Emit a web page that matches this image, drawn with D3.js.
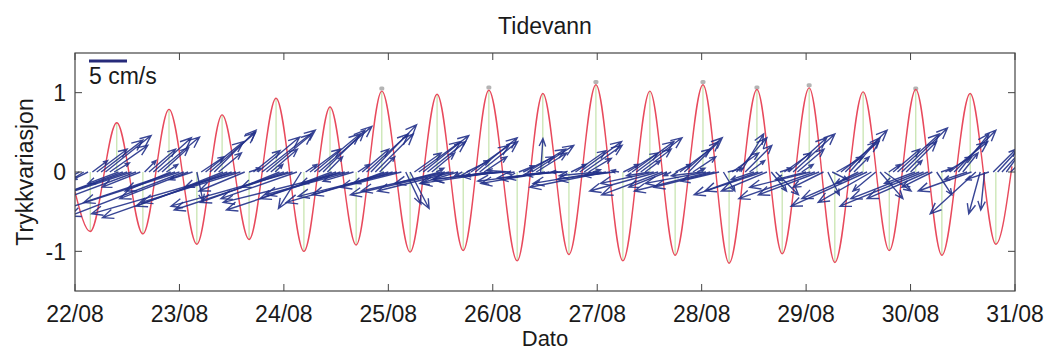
<!DOCTYPE html>
<html><head><meta charset="utf-8">
<script src="https://cdn.jsdelivr.net/npm/d3@7"></script>
<style>
body{margin:0;background:#fff}
svg{display:block}
text{font-family:"Liberation Sans",Arial,sans-serif;fill:#1a1a1a}
</style>
</head><body>
<svg id="chart" width="1046" height="353"></svg>
<script>
// ---------------- data ----------------
const chartTitle = "Tidevann";
const xLabel = "Dato";
const yLabel = "Trykkvariasjon";
const startDate = new Date(2014, 7, 22);
const endDate = new Date(2014, 7, 31);
const yTicks = [-1, 0, 1];

// tidal pressure variation: hours after 22/08 00:00 and level at each turning point
const tideHours = [0, 3.5, 9.6, 15.6, 21.6, 28.0, 33.8, 40.0, 46.2, 52.6, 58.6, 64.6, 70.5, 77.0, 83.2, 89.2, 95.1,
  101.6, 107.5, 113.5, 119.7, 125.9, 132.1, 137.9, 144.3, 150.3, 156.7, 162.5, 168.7, 174.6, 181.1, 187.1,
  193.2, 199.2, 205.7, 211.6, 215.3];
const tideLevels = [-0.25, -0.75, 0.62, -0.78, 0.79, -0.91, 0.72, -0.85, 0.93, -1.00, 0.82, -0.92, 1.02, -1.01, 0.98, -0.99, 1.03,
  -1.12, 0.99, -1.04, 1.10, -1.12, 1.02, -1.05, 1.10, -1.15, 1.04, -1.03, 1.06, -1.14, 1.01, -0.99,
  1.04, -1.05, 0.99, -0.91, 0.07];

// grey reference marks visible above some high waters
const capHours = [70.5, 95.1, 119.7, 144.3, 156.7, 168.7, 193.2];
const capLevels = [1.06, 1.07, 1.14, 1.14, 1.07, 1.10, 1.06];

// current vectors (cm/s), hourly from 22/08 00:00
const currentStartHour = 0;
const currentStepHours = 1;
const currentU = [
  -6,-10,-7,-2,2,4,5.5,6,5,2,-4,-11,-16,-18,-12,-5,1.5,3.5,5,5.5,3.5,1.5,-6,-12,
  -17,-15,-9,-3,0.8,3,5,6,5.5,3,-5,-12,-17,-19,-13,-6,1.5,3.5,5.5,7,6,3.5,1,-5,
  -11,-15,-16,-10,-3,1.5,4,6,7,5.5,2,-4,-10,-15,-16,-11,-4,1.5,3.5,5.5,6,5,2,-4,
  -10,-14,-13,-8,2,2.5,3.5,5.5,6,5,3,1,-6,-11,-13,-10,-5,-1,3,5,5.5,5,3,-3,
  -8,-10,-9,-6,-3,-1,2,4,5,5.5,4,0.3,-5,-9,-10,-8,-5,-2,2,4,5.5,5,3,1,
  -5,-9,-10,-7,-4,-1,2,4,5.5,6,4,2,-3,-7,-9,-8,-5,-1,2,4,5,4,3,1,
  -4,-8,-10,-8,-5,1.5,2,3.5,4,3,3.5,2,-3,-7,-9,-6,2,3,1.5,3.5,5,5.5,3.5,1.5,
  -4,-8,-10,-8,-4,1.5,2,3.5,5,5.5,4,2,-3,-8,-10,-7,-3,3,3.5,1.5,3.5,5.5,6,4,
  1.5,-4,-9,-11,-8,-4,2,1.5,3.5,5,5.5,4,2,-3,-7,-6,-1.5,-0.5,-3,3,5,5.5,4,2
];
const currentV = [
  -3.5,-5,-4.5,-1,1.5,3,4.2,4.8,3.5,1.2,-1.5,-4,-5.5,-6,-4.5,-2,1.5,3,4.5,4.6,3.2,1,-2.5,-4,
  -5.5,-5.8,-3.5,-1,-3.8,2,4,5.2,5.5,2.5,-2,-4.5,-6,-5.5,-4,-2.5,0.5,2.8,4.6,5.5,5,3,1,-2,
  -4,-5,-4.5,-3.5,-4.8,1,3,5,6,5.5,2,-1.5,-3.5,-5,-4,-3,-1.2,1,3,5,6.2,5,2,-1.5,
  -3,-4,-3.2,-2,-4.2,-4.8,2.5,4,4.8,4,2.5,0.5,-1.5,-2.5,-3,-2.5,-1.5,-0.5,1.5,3.5,4.5,4,2,-0.5,
  -1,-1.5,-1,-0.5,0.2,-0.2,0.8,2,3,3.5,2.5,4.4,-0.8,-1.5,-1.2,-0.8,-0.3,0,1,2.8,4,3.5,1.8,0.3,
  -0.5,-1.5,-2,-1,-0.5,0.2,1,2.5,4,4.5,3,1.5,-0.5,-1.5,-2.5,-3,-2,-0.5,1,3,4.5,4,2,0.5,
  -0.5,-1.5,-2.5,-2,-1.2,-2.5,0.5,2.5,4.5,5,3.5,1.5,-1,-2.5,-3,-2.5,-2.5,-3,0.5,2.5,4.5,5,3,1,
  -1,-2,-3.5,-3,-2,-3,-1,2,4,5.5,4.5,2,-1.5,-3.5,-4.5,-4,-2.5,-3.5,-2.5,1,3,5,5.8,4,
  1.5,-1.5,-3.5,-4.5,-3.5,-2,-3,0.5,2,4,5.5,5,2.5,-1,-2.5,-5.5,-5.5,-5,-1,3,5.5,6,5.5,2
];
const scaleBarSpeed = 5;
const scaleBarLabel = "5 cm/s";

// ---------------- layout ----------------
const plot = {left: 75, right: 1015, top: 53, bottom: 291};
const svg = d3.select("#chart");

const hourToDate = h => new Date(startDate.getTime() + h * 3600e3);
const x = d3.scaleTime().domain([startDate, endDate]).range([plot.left, plot.right]);
const y = d3.scaleLinear().domain([-1.5, 1.5]).range([plot.bottom, plot.top]);
const speed = d3.scaleLinear().domain([0, scaleBarSpeed]).range([0, 38]); // px per cm/s

svg.append("defs").append("clipPath").attr("id", "clip")
  .append("rect").attr("x", plot.left).attr("y", plot.top)
  .attr("width", plot.right - plot.left).attr("height", plot.bottom - plot.top);

const g = svg.append("g").attr("clip-path", "url(#clip)");

const tide = tideHours.map((h, i) => ({t: hourToDate(h), v: tideLevels[i]}));

// green stems at the turning points
g.append("g").selectAll("line").data(tide.slice(1, -1)).join("line")
  .attr("x1", d => x(d.t)).attr("x2", d => x(d.t))
  .attr("y1", d => y(d.v)).attr("y2", y(0))
  .attr("stroke", "#bfe0a4").attr("stroke-width", 1.1);

// grey caps
g.append("g").selectAll("rect").data(capHours.map((h, i) => ({t: hourToDate(h), v: capLevels[i]}))).join("rect")
  .attr("x", d => x(d.t) - 2.5).attr("y", d => y(d.v) - 1.5)
  .attr("width", 5).attr("height", 4).attr("rx", 1.5)
  .attr("fill", "#b4b4b4");

// red tide curve
g.append("path").datum(tide)
  .attr("d", d3.line().x(d => x(d.t)).y(d => y(d.v)).curve(d3.curveMonotoneX))
  .attr("fill", "none").attr("stroke", "#e84a5c").attr("stroke-width", 1.4);

// quiver arrows
const arrows = currentU.map((u, i) => ({t: hourToDate(currentStartHour + i * currentStepHours), u, v: currentV[i]}));
function arrowPath(d) {
  const x0 = x(d.t), y0 = y(0);
  const dx = Math.sign(d.u) * speed(Math.abs(d.u));
  const dy = -Math.sign(d.v) * speed(Math.abs(d.v));
  const x1 = x0 + dx, y1 = y0 + dy;
  const len = Math.hypot(dx, dy);
  if (len < 0.5) return "";
  const head = Math.max(5, Math.min(12, len * 0.25));
  const ang = Math.atan2(dy, dx);
  const a = 0.4;
  const hx1 = x1 - head * Math.cos(ang - a), hy1 = y1 - head * Math.sin(ang - a);
  const hx2 = x1 - head * Math.cos(ang + a), hy2 = y1 - head * Math.sin(ang + a);
  return `M${x0},${y0}L${x1},${y1}M${hx1},${hy1}L${x1},${y1}L${hx2},${hy2}`;
}
g.append("g").selectAll("path").data(arrows).join("path")
  .attr("d", arrowPath)
  .attr("fill", "none").attr("stroke", "#22318a").attr("stroke-width", 1.4)
  .attr("stroke-linejoin", "miter").attr("stroke-opacity", 0.9);

// ---------------- axes ----------------
const axisColor = "#444";
svg.append("rect").attr("x", plot.left).attr("y", plot.top)
  .attr("width", plot.right - plot.left).attr("height", plot.bottom - plot.top)
  .attr("fill", "none").attr("stroke", axisColor).attr("stroke-width", 1.2);

const xTicks = d3.timeDay.range(startDate, d3.timeDay.offset(endDate, 1));
const fmt = d3.timeFormat("%d/%m");
const tickLen = 7;
const axG = svg.append("g");
xTicks.forEach(d => {
  const xx = x(d);
  axG.append("line").attr("x1", xx).attr("x2", xx).attr("y1", plot.bottom).attr("y2", plot.bottom - tickLen).attr("stroke", axisColor);
  axG.append("line").attr("x1", xx).attr("x2", xx).attr("y1", plot.top).attr("y2", plot.top + tickLen).attr("stroke", axisColor);
  axG.append("text").attr("x", xx).attr("y", 322).attr("text-anchor", "middle")
    .attr("font-size", 23).text(fmt(d));
});
yTicks.forEach(v => {
  const yy = y(v);
  axG.append("line").attr("x1", plot.left).attr("x2", plot.left + tickLen).attr("y1", yy).attr("y2", yy).attr("stroke", axisColor);
  axG.append("line").attr("x1", plot.right).attr("x2", plot.right - tickLen).attr("y1", yy).attr("y2", yy).attr("stroke", axisColor);
  axG.append("text").attr("x", plot.left - 9).attr("y", yy).attr("dy", "0.36em")
    .attr("text-anchor", "end").attr("font-size", 23).text(v);
});

// titles
svg.append("text").attr("x", (plot.left + plot.right) / 2).attr("y", 34)
  .attr("text-anchor", "middle").attr("font-size", 23).text(chartTitle);
svg.append("text").attr("x", (plot.left + plot.right) / 2).attr("y", 346)
  .attr("text-anchor", "middle").attr("font-size", 22).text(xLabel);
svg.append("text").attr("transform", `translate(33,${(plot.top + plot.bottom) / 2}) rotate(-90)`)
  .attr("text-anchor", "middle").attr("font-size", 23).text(yLabel);

// scale bar
svg.append("line").attr("x1", 89).attr("x2", 89 + speed(scaleBarSpeed)).attr("y1", 61).attr("y2", 61)
  .attr("stroke", "#262a7a").attr("stroke-width", 3);
svg.append("text").attr("x", 89).attr("y", 84).attr("font-size", 23).text(scaleBarLabel);
</script>
</body></html>
